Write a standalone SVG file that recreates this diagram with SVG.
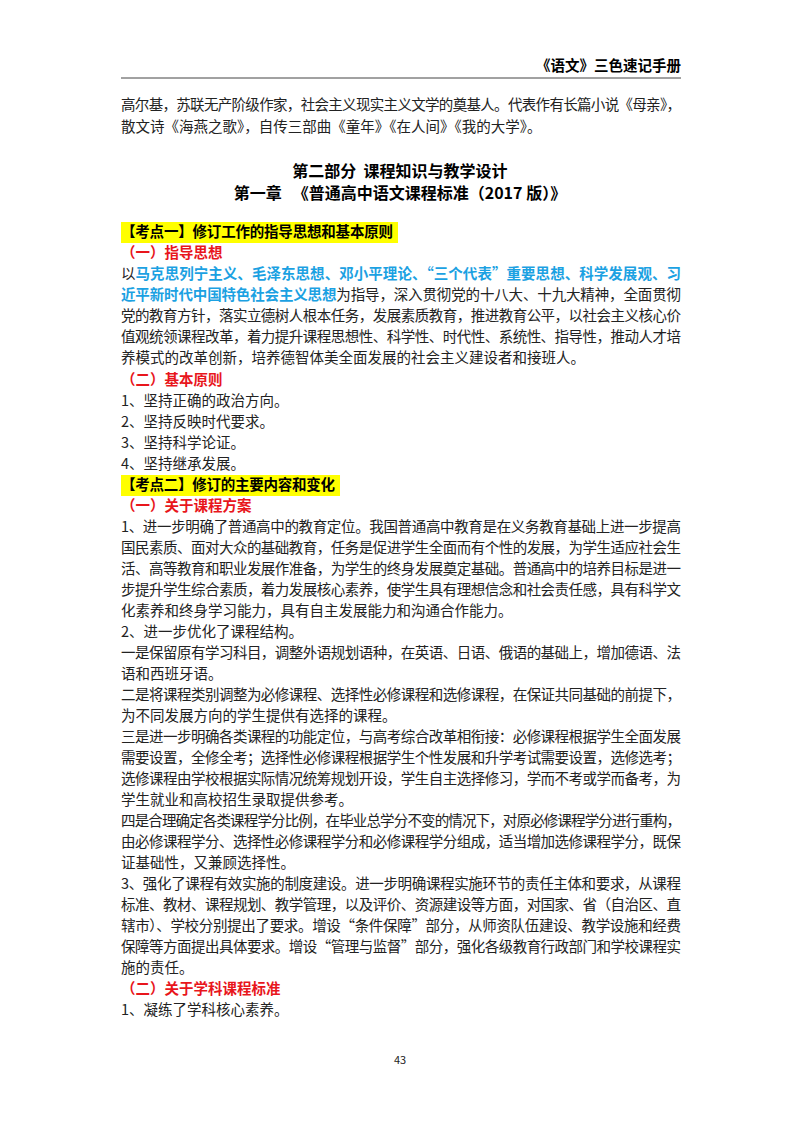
<svg xmlns="http://www.w3.org/2000/svg" width="800" height="1132" viewBox="0 0 800 1132">
<style>
text{font-family:"Noto Sans CJK SC","Liberation Serif",serif;font-size:14.5px;fill:#222}
.b{font-weight:bold;fill:#000}
.r{font-weight:bold;fill:#e8161c}
.c{font-weight:bold;fill:#1ba1e2}
.t{font-size:16px;font-weight:bold;fill:#000}
.hl{fill:#ffff00}
</style>
<rect width="800" height="1132" fill="#fff"/>
<g id="header">
<text x="681" y="71" text-anchor="end" class="b">《语文》三色速记手册</text>
<line x1="121" y1="78" x2="681" y2="78" stroke="#444" stroke-width="1"/>
</g>
<g id="body">
<text x="121" y="110" textLength="560">高尔基，苏联无产阶级作家，社会主义现实主义文学的奠基人。代表作有长篇小说《母亲》，</text>
<text x="121" y="132">散文诗《海燕之歌》，自传三部曲《童年》《在人间》《我的大学》。</text>
<text x="400" y="177" text-anchor="middle" class="t" xml:space="preserve">第二部分  课程知识与教学设计</text>
<text x="400" y="199" text-anchor="middle" class="t" xml:space="preserve">第一章   《普通高中语文课程标准（2017 版）》</text>
<rect class="hl" x="121" y="222" width="277" height="21"/>
<text x="121" y="237" class="b" textLength="272">【考点一】修订工作的指导思想和基本原则</text>
<text x="121" y="258" class="r">（一）指导思想</text>
<text x="121" y="279" textLength="560"><tspan>以</tspan><tspan class="c">马克思列宁主义、毛泽东思想、邓小平理论、“三个代表”重要思想、科学发展观、习</tspan></text>
<text x="121" y="300" textLength="560"><tspan class="c">近平新时代中国特色社会主义思想</tspan><tspan>为指导，深入贯彻党的十八大、十九大精神，全面贯彻</tspan></text>
<text x="121" y="321" textLength="560">党的教育方针，落实立德树人根本任务，发展素质教育，推进教育公平，以社会主义核心价</text>
<text x="121" y="342" textLength="560">值观统领课程改革，着力提升课程思想性、科学性、时代性、系统性、指导性，推动人才培</text>
<text x="121" y="363">养模式的改革创新，培养德智体美全面发展的社会主义建设者和接班人。</text>
<text x="121" y="385" class="r">（二）基本原则</text>
<text x="121" y="406">1、坚持正确的政治方向。</text>
<text x="121" y="427">2、坚持反映时代要求。</text>
<text x="121" y="448">3、坚持科学论证。</text>
<text x="121" y="469">4、坚持继承发展。</text>
<rect class="hl" x="121" y="475" width="219" height="21"/>
<text x="121" y="490" class="b" textLength="214">【考点二】修订的主要内容和变化</text>
<text x="121" y="511" class="r">（一）关于课程方案</text>
<text x="121" y="532" textLength="560">1、进一步明确了普通高中的教育定位。我国普通高中教育是在义务教育基础上进一步提高</text>
<text x="121" y="553" textLength="560">国民素质、面对大众的基础教育，任务是促进学生全面而有个性的发展，为学生适应社会生</text>
<text x="121" y="574" textLength="560">活、高等教育和职业发展作准备，为学生的终身发展奠定基础。普通高中的培养目标是进一</text>
<text x="121" y="595" textLength="560">步提升学生综合素质，着力发展核心素养，使学生具有理想信念和社会责任感，具有科学文</text>
<text x="121" y="616">化素养和终身学习能力，具有自主发展能力和沟通合作能力。</text>
<text x="121" y="637">2、进一步优化了课程结构。</text>
<text x="121" y="658" textLength="560">一是保留原有学习科目，调整外语规划语种，在英语、日语、俄语的基础上，增加德语、法</text>
<text x="121" y="679">语和西班牙语。</text>
<text x="121" y="700" textLength="560">二是将课程类别调整为必修课程、选择性必修课程和选修课程，在保证共同基础的前提下，</text>
<text x="121" y="721">为不同发展方向的学生提供有选择的课程。</text>
<text x="121" y="742" textLength="560">三是进一步明确各类课程的功能定位，与高考综合改革相衔接：必修课程根据学生全面发展</text>
<text x="121" y="763" textLength="560">需要设置，全修全考；选择性必修课程根据学生个性发展和升学考试需要设置，选修选考；</text>
<text x="121" y="784" textLength="560">选修课程由学校根据实际情况统筹规划开设，学生自主选择修习，学而不考或学而备考，为</text>
<text x="121" y="805">学生就业和高校招生录取提供参考。</text>
<text x="121" y="826" textLength="560">四是合理确定各类课程学分比例，在毕业总学分不变的情况下，对原必修课程学分进行重构，</text>
<text x="121" y="847" textLength="560">由必修课程学分、选择性必修课程学分和必修课程学分组成，适当增加选修课程学分，既保</text>
<text x="121" y="868">证基础性，又兼顾选择性。</text>
<text x="121" y="889" textLength="560">3、强化了课程有效实施的制度建设。进一步明确课程实施环节的责任主体和要求，从课程</text>
<text x="121" y="910" textLength="560">标准、教材、课程规划、教学管理，以及评价、资源建设等方面，对国家、省（自治区、直</text>
<text x="121" y="931" textLength="560">辖市）、学校分别提出了要求。增设“条件保障”部分，从师资队伍建设、教学设施和经费</text>
<text x="121" y="952" textLength="560">保障等方面提出具体要求。增设“管理与监督”部分，强化各级教育行政部门和学校课程实</text>
<text x="121" y="973">施的责任。</text>
<text x="121" y="994" class="r">（二）关于学科课程标准</text>
<text x="121" y="1015">1、凝练了学科核心素养。</text>
<text x="400" y="1064" text-anchor="middle" style="font-size:11px">43</text>
</g>
</svg>
